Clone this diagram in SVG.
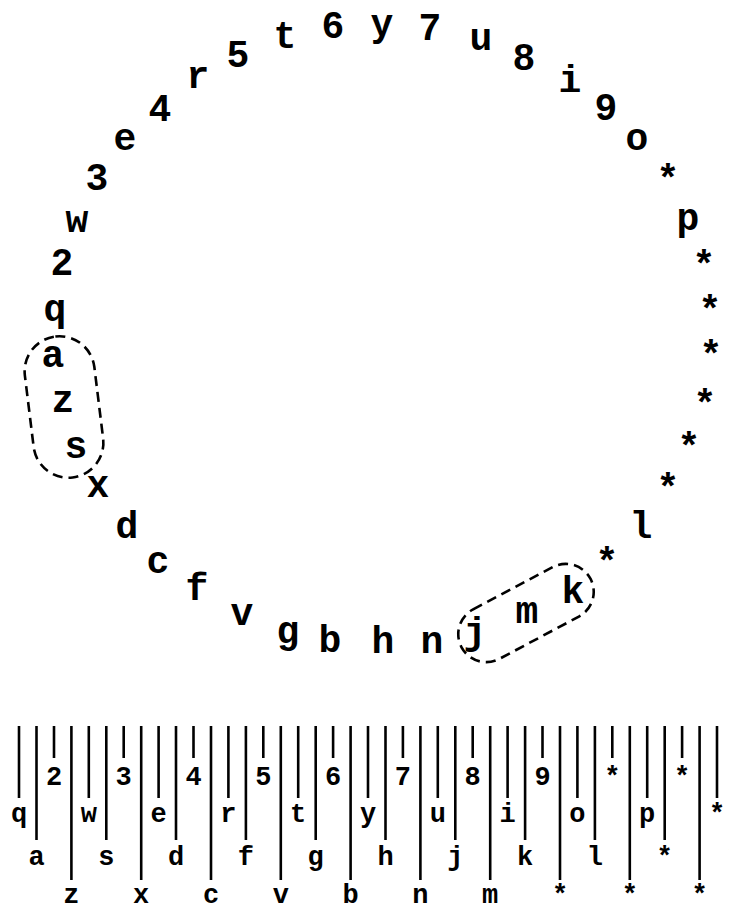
<svg xmlns="http://www.w3.org/2000/svg" width="729" height="908" viewBox="0 0 729 908">
<style>
.r{font-family:"Liberation Mono","Courier New",monospace;font-weight:bold;font-size:38px;text-anchor:middle;fill:#000}
.k{font-family:"Liberation Mono","Courier New",monospace;font-weight:bold;font-size:27px;text-anchor:middle;fill:#000}
.d{fill:none;stroke:#000;stroke-width:2.6;stroke-dasharray:10 6}
.l{stroke:#000;stroke-width:2.6}
</style>
<rect width="729" height="908" fill="#fff"/>
<g id="ring">
<text class="r" x="382" y="36">y</text>
<text class="r" x="333" y="38">6</text>
<text class="r" x="285" y="48">t</text>
<text class="r" x="238" y="67">5</text>
<text class="r" x="198" y="88">r</text>
<text class="r" x="160" y="121">4</text>
<text class="r" x="125" y="150">e</text>
<text class="r" x="97" y="190">3</text>
<text class="r" x="77" y="232">w</text>
<text class="r" x="62" y="275">2</text>
<text class="r" x="55" y="321">q</text>
<text class="r" x="53" y="367">a</text>
<text class="r" x="63" y="412">z</text>
<text class="r" x="76" y="458">s</text>
<text class="r" x="98" y="497">x</text>
<text class="r" x="127" y="538">d</text>
<text class="r" x="158" y="573">c</text>
<text class="r" x="197" y="600">f</text>
<text class="r" x="242" y="625">v</text>
<text class="r" x="288" y="643">g</text>
<text class="r" x="330" y="652">b</text>
<text class="r" x="383" y="653">h</text>
<text class="r" x="432" y="653">n</text>
<text class="r" x="475" y="644">j</text>
<text class="r" x="527" y="623">m</text>
<text class="r" x="573" y="603">k</text>
<text class="r" x="607" y="574">*</text>
<text class="r" x="641" y="538">l</text>
<text class="r" x="668" y="500">*</text>
<text class="r" x="689" y="459">*</text>
<text class="r" x="705" y="416">*</text>
<text class="r" x="711" y="367">*</text>
<text class="r" x="710" y="322">*</text>
<text class="r" x="704" y="277">*</text>
<text class="r" x="688" y="230">p</text>
<text class="r" x="668" y="191">*</text>
<text class="r" x="637" y="150">o</text>
<text class="r" x="606" y="120">9</text>
<text class="r" x="570" y="92">i</text>
<text class="r" x="524" y="70">8</text>
<text class="r" x="481" y="50">u</text>
<text class="r" x="430" y="40">7</text>
</g>
<g id="group-azs">
<rect class="d" x="-35" y="-71" width="70" height="142" rx="35" transform="translate(64,407) rotate(-7)"/>
</g>
<g id="group-jmk">
<rect class="d" x="-73" y="-28" width="146" height="56" rx="28" transform="translate(526,613) rotate(-28)"/>
</g>
<g id="keyboard">
<g id="lines">
<line class="l" x1="19" y1="726" x2="19" y2="798"/>
<line class="l" x1="36.5" y1="726" x2="36.5" y2="840"/>
<line class="l" x1="54" y1="726" x2="54" y2="758"/>
<line class="l" x1="71.4" y1="726" x2="71.4" y2="880"/>
<line class="l" x1="88.8" y1="726" x2="88.8" y2="798"/>
<line class="l" x1="106.3" y1="726" x2="106.3" y2="840"/>
<line class="l" x1="123.7" y1="726" x2="123.7" y2="758"/>
<line class="l" x1="141.2" y1="726" x2="141.2" y2="880"/>
<line class="l" x1="158.6" y1="726" x2="158.6" y2="798"/>
<line class="l" x1="176" y1="726" x2="176" y2="840"/>
<line class="l" x1="193.5" y1="726" x2="193.5" y2="758"/>
<line class="l" x1="211" y1="726" x2="211" y2="880"/>
<line class="l" x1="228.4" y1="726" x2="228.4" y2="798"/>
<line class="l" x1="245.9" y1="726" x2="245.9" y2="840"/>
<line class="l" x1="263.3" y1="726" x2="263.3" y2="758"/>
<line class="l" x1="280.8" y1="726" x2="280.8" y2="880"/>
<line class="l" x1="298.2" y1="726" x2="298.2" y2="798"/>
<line class="l" x1="315.7" y1="726" x2="315.7" y2="840"/>
<line class="l" x1="333.1" y1="726" x2="333.1" y2="758"/>
<line class="l" x1="350.6" y1="726" x2="350.6" y2="880"/>
<line class="l" x1="368" y1="726" x2="368" y2="798"/>
<line class="l" x1="385.5" y1="726" x2="385.5" y2="840"/>
<line class="l" x1="402.9" y1="726" x2="402.9" y2="758"/>
<line class="l" x1="420.4" y1="726" x2="420.4" y2="880"/>
<line class="l" x1="437.8" y1="726" x2="437.8" y2="798"/>
<line class="l" x1="455.3" y1="726" x2="455.3" y2="840"/>
<line class="l" x1="472.7" y1="726" x2="472.7" y2="758"/>
<line class="l" x1="490.2" y1="726" x2="490.2" y2="880"/>
<line class="l" x1="507.6" y1="726" x2="507.6" y2="798"/>
<line class="l" x1="525.1" y1="726" x2="525.1" y2="840"/>
<line class="l" x1="542.5" y1="726" x2="542.5" y2="758"/>
<line class="l" x1="560" y1="726" x2="560" y2="880"/>
<line class="l" x1="577.4" y1="726" x2="577.4" y2="798"/>
<line class="l" x1="594.9" y1="726" x2="594.9" y2="840"/>
<line class="l" x1="612.3" y1="726" x2="612.3" y2="758"/>
<line class="l" x1="629.8" y1="726" x2="629.8" y2="880"/>
<line class="l" x1="647.2" y1="726" x2="647.2" y2="798"/>
<line class="l" x1="664.7" y1="726" x2="664.7" y2="840"/>
<line class="l" x1="682.1" y1="726" x2="682.1" y2="758"/>
<line class="l" x1="699.6" y1="726" x2="699.6" y2="880"/>
<line class="l" x1="717" y1="726" x2="717" y2="798"/>
<line class="l" x1="734.5" y1="726" x2="734.5" y2="840"/>
</g>
<g id="labels">
<text class="k" x="19" y="822">q</text>
<text class="k" x="36.5" y="865">a</text>
<text class="k" x="54" y="785">2</text>
<text class="k" x="71.4" y="903">z</text>
<text class="k" x="88.8" y="822">w</text>
<text class="k" x="106.3" y="865">s</text>
<text class="k" x="123.7" y="785">3</text>
<text class="k" x="141.2" y="903">x</text>
<text class="k" x="158.6" y="822">e</text>
<text class="k" x="176" y="865">d</text>
<text class="k" x="193.5" y="785">4</text>
<text class="k" x="211" y="903">c</text>
<text class="k" x="228.4" y="822">r</text>
<text class="k" x="245.9" y="865">f</text>
<text class="k" x="263.3" y="785">5</text>
<text class="k" x="280.8" y="903">v</text>
<text class="k" x="298.2" y="822">t</text>
<text class="k" x="315.7" y="865">g</text>
<text class="k" x="333.1" y="785">6</text>
<text class="k" x="350.6" y="903">b</text>
<text class="k" x="368" y="822">y</text>
<text class="k" x="385.5" y="865">h</text>
<text class="k" x="402.9" y="785">7</text>
<text class="k" x="420.4" y="903">n</text>
<text class="k" x="437.8" y="822">u</text>
<text class="k" x="455.3" y="865">j</text>
<text class="k" x="472.7" y="785">8</text>
<text class="k" x="490.2" y="903">m</text>
<text class="k" x="507.6" y="822">i</text>
<text class="k" x="525.1" y="865">k</text>
<text class="k" x="542.5" y="785">9</text>
<text class="k" x="560" y="903">*</text>
<text class="k" x="577.4" y="822">o</text>
<text class="k" x="594.9" y="865">l</text>
<text class="k" x="612.3" y="785">*</text>
<text class="k" x="629.8" y="903">*</text>
<text class="k" x="647.2" y="822">p</text>
<text class="k" x="664.7" y="865">*</text>
<text class="k" x="682.1" y="785">*</text>
<text class="k" x="699.6" y="903">*</text>
<text class="k" x="717" y="822">*</text>
<text class="k" x="734.5" y="865">*</text>
</g>
</g>
</svg>
